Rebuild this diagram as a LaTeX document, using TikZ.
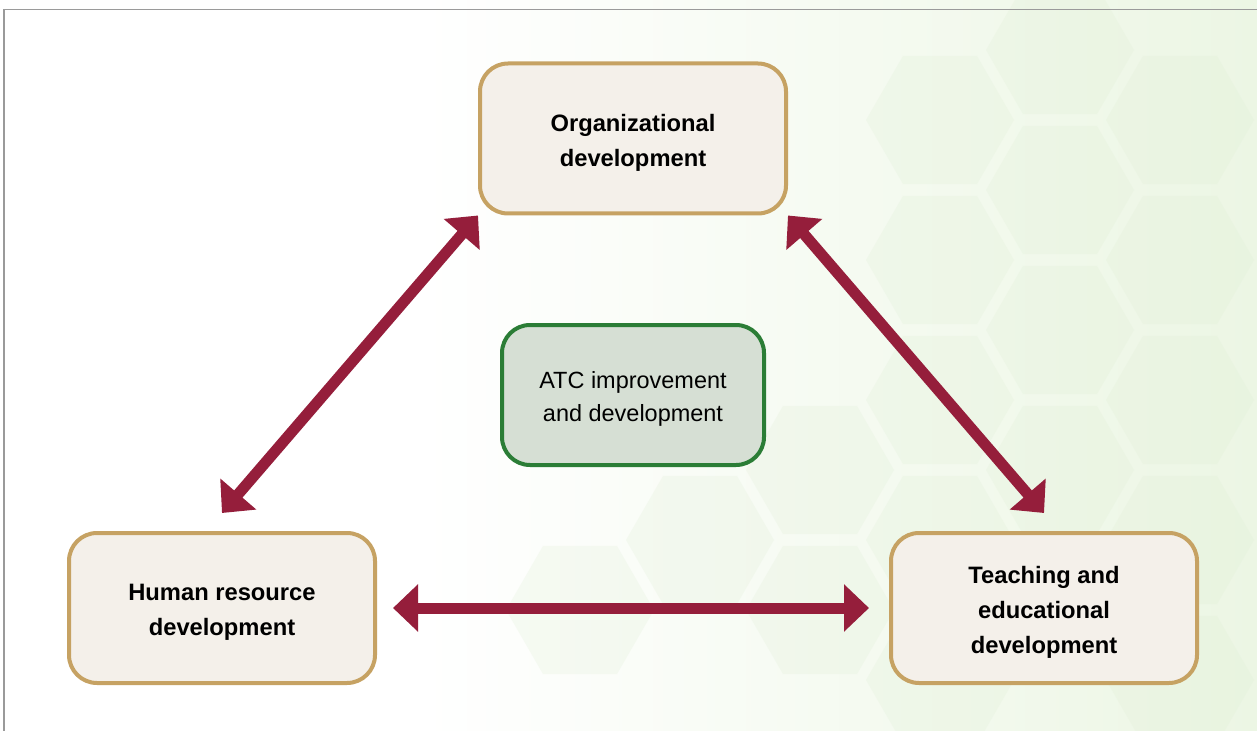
\documentclass[tikz,border=0pt]{standalone}
\usepackage{fontspec}
\setmainfont{Liberation Sans}
\usetikzlibrary{arrows.meta,calc}
\definecolor{tanB}{HTML}{C6A263}
\definecolor{boxF}{HTML}{F4F0EA}
\definecolor{crim}{HTML}{951E3B}
\definecolor{grnB}{HTML}{2B7D36}
\definecolor{grnF}{HTML}{D6DFD4}
\definecolor{bgG}{HTML}{ECF6E4}
\definecolor{hexG}{HTML}{DDEDD2}
\definecolor{frameC}{HTML}{9A9A9A}
\newcommand{\lowtxt}[1]{\raisebox{-2.4pt}[\height][\depth]{\begin{tabular}{@{}c@{}}#1\end{tabular}}}
\begin{document}
\begin{tikzpicture}[x=0.75pt,y=-0.75pt,
  mainbox/.style={draw=tanB,fill=boxF,line width=3pt,rounded corners=21pt,
    minimum width=229.5pt,minimum height=112.5pt,align=center,inner sep=0pt,
    font=\fontsize{17.8}{26.25}\selectfont\bfseries},
  atcbox/.style={draw=grnB,fill=grnF,line width=3pt,rounded corners=21pt,
    minimum width=196.5pt,minimum height=105pt,align=center,inner sep=0pt,
    font=\fontsize{17.6}{24.75}\selectfont},
  dbl/.style={draw=crim,line width=8.25pt,
    {Triangle[length=18.75pt,width=34.5pt]}-{Triangle[length=18.75pt,width=34.5pt]}},
  hexa/.style={fill=hexG}
]
\useasboundingbox (0,0) rectangle (1257,731);
% background
\fill[white] (0,0) rectangle (1257,731);
\fill[left color=white,right color=bgG] (420,0) rectangle (1257,731);
\begin{scope}[opacity=0.22]
\foreach \cx/\cy in {940/120,1060/50,1060/190,1180/120,1180/260,940/260,1060/330,1180/400,940/400,1060/470,1180/540,940/540,820/470,820/610,1060/610,1180/680,700/540,580/610,940/680}{
  \fill[hexa] (\cx,\cy) +(0:74) -- +(60:74) -- +(120:74) -- +(180:74) -- +(240:74) -- +(300:74) -- cycle;
}
\end{scope}
% frame
\draw[frameC,line width=1.1pt] (4,731) -- (4,9.3) -- (1257,9.3);
% nodes
\node[mainbox] (org) at (633,138.5) {\lowtxt{Organizational\\development}};
\node[atcbox] (atc) at (633,395) {\lowtxt{ATC improvement\\and development}};
\node[mainbox] (hr) at (222,608) {\lowtxt{Human resource\\development}};
\node[mainbox] (te) at (1044,608) {\lowtxt{Teaching and\\educational\\development}};
% connectors
\draw[dbl] (org.south west) -- ($(hr.north)+(0,-18)$);
\draw[dbl] (org.south east) -- ($(te.north)+(0,-18)$);
\draw[dbl] ($(hr.east)+(16,0)$) -- ($(te.west)+(-20,0)$);
\end{tikzpicture}
\end{document}
